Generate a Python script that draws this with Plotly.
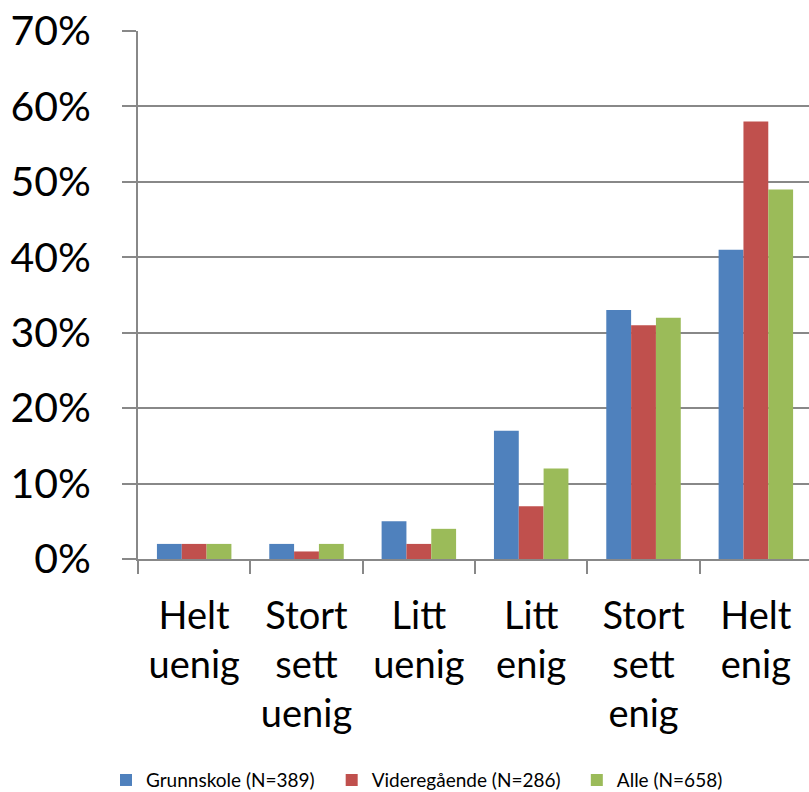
import plotly.graph_objects as go

categories = ["Helt<br>uenig", "Stort<br>sett<br>uenig", "Litt<br>uenig",
              "Litt<br>enig", "Stort<br>sett<br>enig", "Helt<br>enig"]
grunnskole = [0.02, 0.02, 0.05, 0.17, 0.33, 0.41]
videregaende = [0.02, 0.01, 0.02, 0.07, 0.31, 0.58]
alle = [0.02, 0.02, 0.04, 0.12, 0.32, 0.49]

series = [
    ("Grunnskole (N=389)", grunnskole, "#4F81BD", "legend"),
    ("Videregående (N=286)", videregaende, "#C0504D", "legend2"),
    ("Alle (N=658)", alle, "#9BBB59", "legend3"),
]

fig = go.Figure()
for name, values, color, leg in series:
    fig.add_trace(go.Bar(x=categories, y=values, name=name, legend=leg,
                         showlegend=True,
                         marker=dict(color=color, line=dict(width=0))))

grid = "#888888"


def legend_at(x):
    # one legend box per series so each entry sits where the original has it
    return dict(orientation="h", xref="container", yref="container",
                x=x, xanchor="left", y=0.015, yanchor="middle",
                font=dict(size=19), itemwidth=30)


fig.update_layout(
    width=809, height=792,
    margin=dict(l=138, r=0, t=31, b=233),
    plot_bgcolor="white", paper_bgcolor="white",
    font=dict(family="Lato", color="black"),
    barmode="group", bargap=0.337, bargroupgap=0,
    showlegend=True,
    legend=legend_at(0.131),
    legend2=legend_at(0.410),
    legend3=legend_at(0.713),
)
fig.update_xaxes(
    range=[-0.5, 5.473], showline=True, linecolor=grid, linewidth=2,
    ticks="outside", tickson="boundaries", ticklen=13, tickcolor=grid,
    tickwidth=2, tickfont=dict(size=38), ticklabelstandoff=22,
    automargin=False,
)
fig.update_yaxes(
    range=[0, 0.7], dtick=0.1, tickformat=".0%",
    showline=True, linecolor=grid, linewidth=2,
    showgrid=True, gridcolor=grid, gridwidth=2,
    ticks="outside", ticklen=14, tickcolor=grid, tickwidth=2,
    tickfont=dict(size=41), ticklabelstandoff=23, zeroline=False,
    automargin=False,
)

# page has a default 8px body margin, drop it so the figure fills the window
fig.write_html("out.html", config={"displayModeBar": False},
               post_script="document.body.style.margin = '0';")
